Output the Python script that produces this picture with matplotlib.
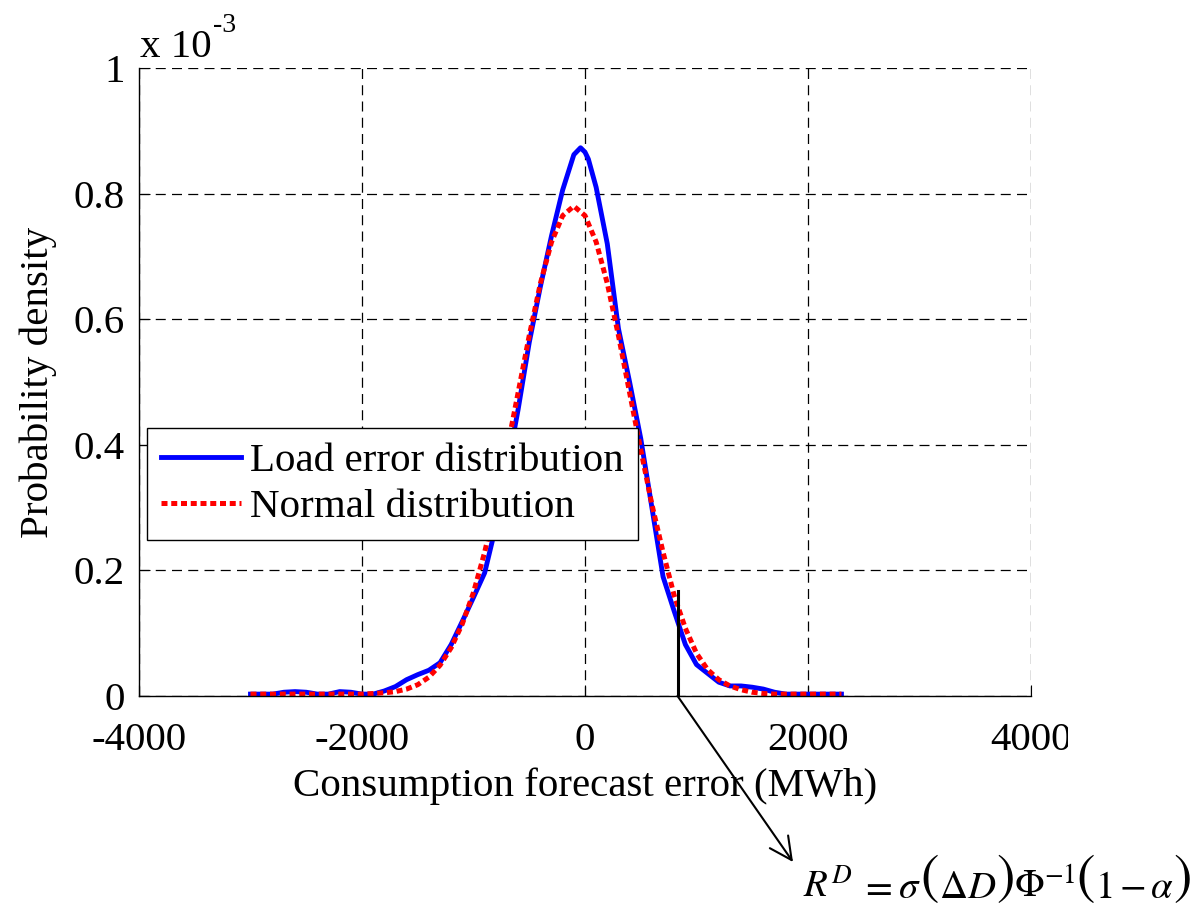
import matplotlib
matplotlib.use("Agg")
import matplotlib.pyplot as plt
from matplotlib.patches import Rectangle

plt.rcParams['font.family'] = ['Liberation Serif', 'DejaVu Serif']
plt.rcParams['mathtext.fontset'] = 'stix'
plt.rcParams['axes.unicode_minus'] = False

# load forecast error density (units of 1e-3)
load_x = [-3000, -2800, -2700, -2600, -2500, -2400, -2300, -2200, -2100, -2000,
          -1900, -1800, -1700, -1600, -1500, -1400, -1300, -1200, -1100, -1000,
          -900, -800, -700, -600, -500, -400, -300, -200, -100, -40, 0, 30,
          100, 200, 300, 400, 500, 600, 700, 800, 900, 1000, 1100, 1200,
          1300, 1400, 1500, 1600, 1700, 1800, 2000, 2300]
load_pdf = [0.003, 0.003, 0.006, 0.007, 0.006, 0.003, 0.003, 0.007, 0.006, 0.003,
            0.003, 0.008, 0.015, 0.026, 0.034, 0.041, 0.053, 0.082, 0.119, 0.157,
            0.196, 0.27, 0.36, 0.456, 0.563, 0.652, 0.733, 0.806, 0.862, 0.873, 0.866, 0.855,
            0.81, 0.72, 0.585, 0.50, 0.41, 0.30, 0.19, 0.135, 0.082, 0.050, 0.036, 0.022,
            0.016, 0.016, 0.014, 0.011, 0.006, 0.003, 0.003, 0.003]

# fitted normal curve (units of 1e-3)
norm_x = [-3000, -2500, -2000, -1900, -1800, -1700, -1600, -1500, -1400, -1300,
          -1200, -1100, -1000, -900, -800, -700, -600, -500, -400, -300,
          -200, -100, 0, 100, 200, 300, 400, 500, 600, 700,
          800, 900, 1000, 1100, 1200, 1300, 1400, 1500, 1600, 1700, 1800, 2000, 2300]
norm_pdf = [0.003, 0.003, 0.003, 0.004, 0.005, 0.007, 0.011, 0.018, 0.030, 0.049,
            0.077, 0.115, 0.165, 0.229, 0.305, 0.392, 0.483, 0.574, 0.657, 0.723,
            0.765, 0.780, 0.765, 0.723, 0.657, 0.574, 0.483, 0.392, 0.305, 0.229,
            0.160, 0.108, 0.068, 0.042, 0.026, 0.016, 0.010, 0.006, 0.004, 0.003, 0.003, 0.003, 0.003]

reserve_x = 830
reserve_h = 0.167

x_ticks = [-4000, -2000, 0, 2000, 4000]
y_ticks = [0, 0.2, 0.4, 0.6, 0.8, 1]
y_tick_labels = ['0', '0.2', '0.4', '0.6', '0.8', '1']

W, H = 1204, 907
fig = plt.figure(figsize=(W / 100, H / 100), dpi=100)
ax = fig.add_axes([139 / W, 1 - 696 / H, (1031 - 139) / W, (696 - 68) / H])

ax.plot(load_x, load_pdf, color='blue', lw=3.5, label='Load error distribution')
ax.plot(norm_x, norm_pdf, color='red', lw=3.6, linestyle=(0, (1.2, 0.75)), label='Normal distribution')
ax.plot([reserve_x, reserve_x], [0, reserve_h], color='black', lw=2.2)

ax.set_xlim(-4000, 4000)
ax.set_ylim(0, 1)
ax.set_xticks(x_ticks)
ax.set_yticks(y_ticks)
ax.set_yticklabels(y_tick_labels)
ax.grid(True, color='black', linestyle=(0, (8, 5)), lw=0.9)
ax.set_axisbelow(True)
for s in ['top', 'right']:
    ax.spines[s].set_visible(False)
for s in ['left', 'bottom']:
    ax.spines[s].set_linewidth(1.0)
ax.tick_params(direction='in', length=8, labelsize=29.5, pad=19)
ax.tick_params(axis='y', pad=10)

ax.set_xlabel('Consumption forecast error (MWh)', fontsize=29.5, labelpad=6)
ax.set_ylabel('Probability density', fontsize=29.5, labelpad=12)

fig.text(140 / W, 1 - 57 / H, 'x 10', fontsize=29.5, ha='left', va='baseline')
fig.text(213 / W, 1 - 32 / H, '-3', fontsize=20, ha='left', va='baseline')

leg = ax.legend(loc='upper left', bbox_to_anchor=(0.009, 0.4268), borderaxespad=0,
                fontsize=29.5, fancybox=False, framealpha=1, edgecolor='black',
                handlelength=1.95, handletextpad=0.22, borderpad=0.35, labelspacing=0.2)
leg.get_frame().set_linewidth(1.0)

ax.annotate('', xy=(793 / W, 1 - 862 / H), xycoords='figure fraction',
            xytext=(reserve_x, 0), textcoords='data', annotation_clip=False,
            arrowprops=dict(arrowstyle='->', lw=1.5, mutation_scale=40, shrinkA=0, shrinkB=0))

# reserve formula, set piece by piece so the brackets can be taller
# (text, fontsize, baseline shift in px, gap before in px)
formula = [(r'$R^{D}$', 28, 0, 0), (r'$=$', 28, 0, 8), (r'$\sigma$', 28, 0, 5),
           (r'$($', 40, 5, 0), (r'$\Delta D$', 28, 0, 0), (r'$)$', 40, 5, 0),
           (r'$\Phi^{-1}$', 28, 0, 0), (r'$($', 40, 5, 0), (r'$1\,{-}\,\alpha$', 28, 0, 0),
           (r'$)$', 40, 5, 0)]
renderer = fig.canvas.get_renderer()
xpos = 803
for s, fs, dy, gap in formula:
    xpos += gap
    t = fig.text(xpos / W, (H - 898 + dy) / H, s, fontsize=fs, ha='left', va='baseline')
    xpos = t.get_window_extent(renderer).x1

# the right edge of the last tick label is cut off in the original
clip = Rectangle((0, 0), 1068 / W, 1, transform=fig.transFigure)
for lab in ax.get_xticklabels():
    lab.set_clip_path(clip)

fig.savefig('out.png', dpi=100)
